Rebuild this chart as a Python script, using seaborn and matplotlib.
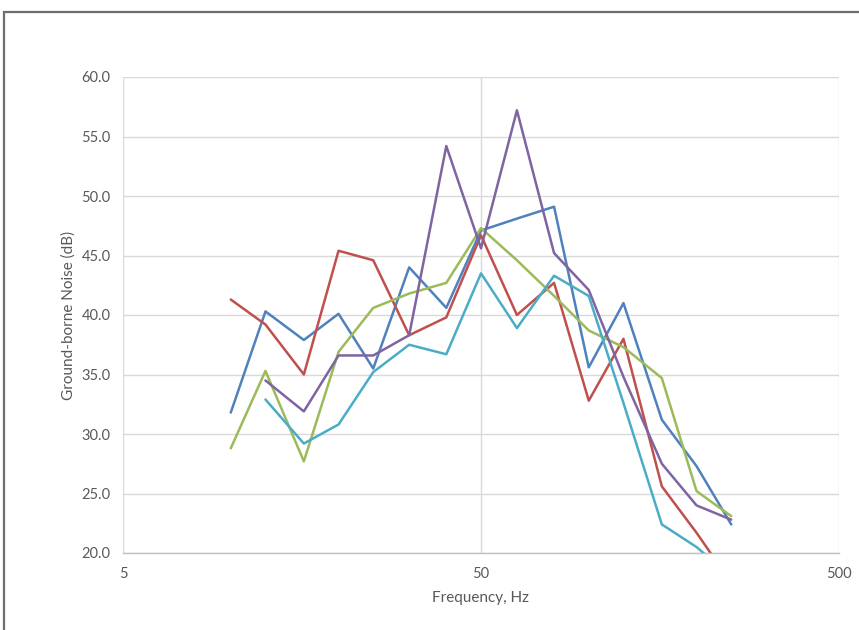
import numpy as np
import pandas as pd
import matplotlib
matplotlib.use("Agg")
import matplotlib.pyplot as plt
import seaborn as sns

freqs = [10, 12.5, 16, 20, 25, 31.5, 40, 50, 63, 80, 100, 125, 160, 200, 250]
series_a = [31.8, 40.3, 37.9, 40.1, 35.5, 44.0, 40.6, 47.1, 48.1, 49.1, 35.6, 41.0, 31.2, 27.3, 22.4]
series_b = [41.3, 39.2, 35.0, 45.4, 44.6, 38.3, 39.8, 46.7, 40.0, 42.7, 32.8, 38.0, 25.6, 21.7, 17.5]
series_c = [28.8, 35.3, 27.7, 36.9, 40.6, 41.8, 42.7, 47.3, 44.6, 41.6, 38.7, 37.3, 34.7, 25.2, 23.1]
series_d = [np.nan, 34.5, 31.9, 36.6, 36.6, 38.3, 54.2, 45.6, 57.2, 45.2, 42.1, 34.8, 27.5, 24.0, 22.8]
series_e = [np.nan, 32.9, 29.2, 30.8, 35.2, 37.5, 36.7, 43.5, 38.9, 43.3, 41.6, 32.6, 22.4, 20.5, 18.0]
series_names = ["A", "B", "C", "D", "E"]
colors = ["#4F81BD", "#C0504D", "#9BBB59", "#8064A2", "#4BACC6"]
x_ticks = [5, 50, 500]
y_ticks = [20, 25, 30, 35, 40, 45, 50, 55, 60]

frames = []
for name, vals in zip(series_names, [series_a, series_b, series_c, series_d, series_e]):
    frames.append(pd.DataFrame({"freq": freqs, "level": vals, "series": name}))
df = pd.concat(frames, ignore_index=True).dropna()

sns.set_theme(style="white")
plt.rcParams["font.family"] = ["Lato", "DejaVu Sans"]

fig = plt.figure(figsize=(8.59, 6.30), dpi=100)
ax = fig.add_axes([123/859, 1-553/630, (839-123)/859, (553-77)/630])

sns.lineplot(data=df, x="freq", y="level", hue="series", palette=colors,
             estimator=None, sort=False, linewidth=1.8, legend=False, ax=ax)

ax.set_xscale("log")
ax.set_xlim(5, 500)
ax.set_ylim(20, 60)
ax.set_xticks(x_ticks)
ax.set_xticklabels([str(t) for t in x_ticks])
ax.xaxis.set_minor_locator(matplotlib.ticker.NullLocator())
ax.set_yticks(y_ticks)
ax.set_yticklabels([f"{t:.1f}" for t in y_ticks])
ax.grid(True, which="major", axis="both", color="#D9D9D9", linewidth=1.0)
ax.set_axisbelow(True)
for s in ["top", "right", "left"]:
    ax.spines[s].set_visible(False)
ax.spines["bottom"].set_color("#BFBFBF")
ax.spines["bottom"].set_linewidth(1.0)
ax.tick_params(axis="both", length=0, labelsize=10.5, labelcolor="#595959")
ax.tick_params(axis="y", pad=9)
ax.tick_params(axis="x", pad=10)
ax.set_xlabel("Frequency, Hz", fontsize=11, color="#595959", labelpad=7)
ax.set_ylabel("Ground-borne Noise (dB)", fontsize=11, color="#595959", labelpad=4)

fig.patches.append(plt.Rectangle((4/859, -0.2), 1.2, (630-12)/630 + 0.2,
                                 transform=fig.transFigure, fill=False,
                                 edgecolor="#6E6E6E", linewidth=1.6))

fig.savefig("out.png", dpi=100, facecolor="white")
